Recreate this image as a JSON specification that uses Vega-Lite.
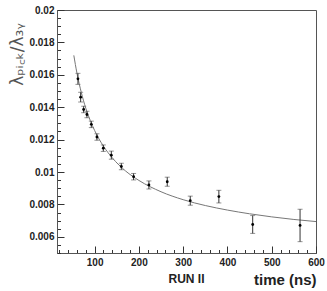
{
  "$schema": "https://vega.github.io/schema/vega-lite/v6.json",
  "width": 259,
  "height": 243,
  "autosize": "none",
  "padding": {"left": 57, "top": 10, "right": 11, "bottom": 38},
  "background": "white",
  "config": {
    "view": {"stroke": "#555", "strokeWidth": 1},
    "font": "Liberation Sans"
  },
  "title": {
    "text": "RUN II",
    "orient": "bottom",
    "anchor": "middle",
    "font": "Liberation Sans",
    "fontSize": 12,
    "fontWeight": "bold",
    "color": "#222",
    "offset": 0,
    "dy": -13
  },
  "datasets": {
    "points": [
      {"t": 62.3, "ratio": 0.01575, "err": 0.00034},
      {"t": 68.4, "ratio": 0.01462, "err": 0.0003},
      {"t": 75.2, "ratio": 0.01386, "err": 0.0002},
      {"t": 82.6, "ratio": 0.01355, "err": 0.0002},
      {"t": 92.5, "ratio": 0.01294, "err": 0.0002},
      {"t": 105.2, "ratio": 0.01216, "err": 0.0002},
      {"t": 119.6, "ratio": 0.01147, "err": 0.0002},
      {"t": 137.7, "ratio": 0.01104, "err": 0.00025},
      {"t": 160.3, "ratio": 0.01034, "err": 0.0002},
      {"t": 188, "ratio": 0.00971, "err": 0.0002},
      {"t": 222.6, "ratio": 0.0092, "err": 0.00025},
      {"t": 264, "ratio": 0.0094, "err": 0.00028},
      {"t": 316, "ratio": 0.00823, "err": 0.00028},
      {"t": 380.6, "ratio": 0.00848, "err": 0.00039},
      {"t": 457, "ratio": 0.00676, "err": 0.00055},
      {"t": 564, "ratio": 0.0067, "err": 0.001}
    ],
    "fit": [
      {"t": 53, "ratio": 0.0172},
      {"t": 60, "ratio": 0.01611},
      {"t": 70, "ratio": 0.0149},
      {"t": 80, "ratio": 0.01394},
      {"t": 90, "ratio": 0.01319},
      {"t": 100, "ratio": 0.01256},
      {"t": 120, "ratio": 0.01159},
      {"t": 140, "ratio": 0.01087},
      {"t": 170, "ratio": 0.01006},
      {"t": 200, "ratio": 0.00948},
      {"t": 250, "ratio": 0.00878},
      {"t": 300, "ratio": 0.00829},
      {"t": 350, "ratio": 0.00793},
      {"t": 400, "ratio": 0.00765},
      {"t": 450, "ratio": 0.00742},
      {"t": 500, "ratio": 0.00723},
      {"t": 550, "ratio": 0.00707},
      {"t": 600, "ratio": 0.00694}
    ]
  },
  "encoding": {
    "x": {
      "field": "t", "type": "quantitative",
      "scale": {"domain": [15, 600], "nice": false, "zero": false},
      "axis": {
        "values": [20,40,60,80,100,120,140,160,180,200,220,240,260,280,300,320,340,360,380,400,420,440,460,480,500,520,540,560,580,600],
        "labelExpr": "datum.value % 100 == 0 ? format(datum.value, 'd') : ''",
        "domainColor": "#555",
        "tickColor": "#333",
        "tickSize": {"condition": {"test": "datum.value % 100 == 0", "value": -7}, "value": -3.5},
        "labelFont": "Liberation Sans",
        "labelFontSize": 10,
        "labelFontWeight": "bold",
        "labelColor": "#222",
        "labelPadding": 11,
        "labelFlush": false,
        "labelOverlap": false,
        "grid": false,
        "title": "time (ns)",
        "titleFont": "Liberation Sans",
        "titleFontSize": 15,
        "titleFontWeight": "bold",
        "titleColor": "#222",
        "titleAlign": "right",
        "titleBaseline": "middle",
        "titleX": 259,
        "titleY": 26
      }
    },
    "y": {
      "field": "ratio", "type": "quantitative",
      "scale": {"domain": [0.005, 0.02], "nice": false, "zero": false},
      "axis": {
        "values": [0.005,0.0055,0.006,0.0065,0.007,0.0075,0.008,0.0085,0.009,0.0095,0.01,0.0105,0.011,0.0115,0.012,0.0125,0.013,0.0135,0.014,0.0145,0.015,0.0155,0.016,0.0165,0.017,0.0175,0.018,0.0185,0.019,0.0195,0.02],
        "labelExpr": "round(datum.value*10000) % 20 == 0 ? replace(format(datum.value, '.3f'), /0$/, '') : ''",
        "domainColor": "#555",
        "tickColor": "#333",
        "tickSize": {"condition": {"test": "round(datum.value*10000) % 20 == 0", "value": -7}, "value": -3.5},
        "labelFont": "Liberation Sans",
        "labelFontSize": 10,
        "labelFontWeight": "bold",
        "labelColor": "#222",
        "labelPadding": 10,
        "labelFlush": false,
        "labelOverlap": false,
        "grid": false,
        "title": "λₚᵢ꜀ₖ/λ₃ᵧ",
        "titleFont": "DejaVu Sans",
        "titleFontSize": 17,
        "titleFontWeight": "normal",
        "titleColor": "#555",
        "titleAngle": -90,
        "titleAlign": "center",
        "titleBaseline": "middle",
        "titleX": -40,
        "titleY": 44
      }
    }
  },
  "layer": [
    {
      "data": {"name": "fit"},
      "mark": {"type": "line", "color": "#777", "strokeWidth": 1, "interpolate": "monotone", "clip": true}
    },
    {
      "data": {"name": "points"},
      "mark": {"type": "errorbar", "color": "#333", "thickness": 1, "ticks": {"size": 5, "color": "#666"}},
      "encoding": {
        "yError": {"field": "err"}
      }
    },
    {
      "data": {"name": "points"},
      "mark": {"type": "point", "filled": true, "color": "black", "size": 8, "opacity": 1}
    }
  ]
}
